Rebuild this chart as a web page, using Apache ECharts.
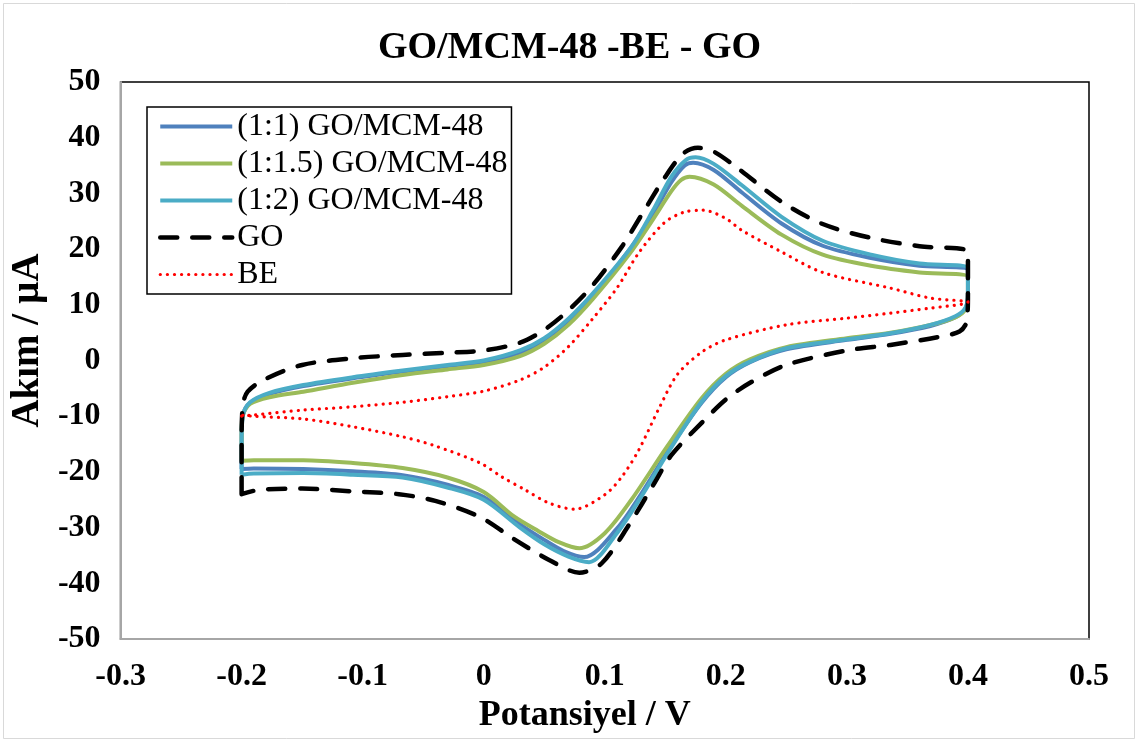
<!DOCTYPE html>
<html>
<head>
<meta charset="utf-8">
<script src="https://cdn.jsdelivr.net/npm/echarts@6/dist/echarts.min.js"></script>
<style>
  html, body { margin: 0; padding: 0; background: #fff; }
  #chart { width: 1139px; height: 742px; }
</style>
</head>
<body>
<div id="chart"></div>
<script>
// Cyclic voltammograms: potential (V) vs current (µA), forward scan then reverse scan.
const seriesNames = ['(1:1) GO/MCM-48', '(1:1.5) GO/MCM-48', '(1:2) GO/MCM-48', 'GO', 'BE'];

const cv11 = [
  [-0.2, -19.5], [-0.2, -13.5], [-0.199, -9.8], [-0.193, -7.6], [-0.177, -6.0], [-0.149, -4.6],
  [-0.108, -3.2], [-0.067, -2.0], [-0.03, -1.0], [0, -0.3], [0.03, 1.4], [0.05, 3.6], [0.07, 7.0],
  [0.09, 11.6], [0.12, 19.8], [0.14, 26.4], [0.155, 32.0], [0.166, 35.0], [0.173, 35.5],
  [0.19, 34.2], [0.213, 30.2], [0.246, 24.6], [0.28, 20.6], [0.32, 18.4], [0.36, 17.0], [0.4, 16.2],
  [0.4, 12.0], [0.398, 9.4], [0.39, 7.8], [0.369, 6.2], [0.336, 4.8], [0.3, 3.7], [0.25, 2.0],
  [0.22, -0.3], [0.2, -3.0], [0.18, -7.6], [0.153, -16.0], [0.13, -24.0], [0.11, -30.2],
  [0.083, -35.3], [0.066, -34.2], [0.05, -32.2], [0.03, -29.4], [0, -24.5], [-0.03, -22.3],
  [-0.067, -20.6], [-0.108, -19.9], [-0.149, -19.5], [-0.19, -19.4], [-0.2, -19.5]
];

const cv115 = [
  [-0.2, -18.0], [-0.2, -13.0], [-0.199, -9.8], [-0.193, -7.8], [-0.177, -6.6], [-0.149, -5.6],
  [-0.108, -4.0], [-0.067, -2.6], [-0.03, -1.6], [0, -0.8], [0.03, 0.8], [0.05, 3.0], [0.07, 6.4],
  [0.09, 11.0], [0.12, 19.0], [0.14, 25.4], [0.155, 30.4], [0.163, 32.4], [0.17, 33.0],
  [0.19, 31.6], [0.213, 27.8], [0.246, 22.6], [0.28, 19.0], [0.32, 17.0], [0.36, 15.8], [0.4, 15.0],
  [0.4, 11.5], [0.398, 9.2], [0.39, 7.8], [0.369, 6.4], [0.336, 5.0], [0.3, 4.0], [0.25, 2.4],
  [0.22, 0.2], [0.2, -2.4], [0.18, -6.8], [0.151, -15.6], [0.122, -25.0], [0.1, -31.0],
  [0.079, -33.7], [0.062, -32.6], [0.045, -30.6], [0.025, -28.0], [0, -23.6], [-0.03, -21.0],
  [-0.067, -19.3], [-0.108, -18.4], [-0.149, -17.9], [-0.19, -17.9], [-0.2, -18.0]
];

const cv12 = [
  [-0.2, -20.5], [-0.2, -14.0], [-0.199, -10.0], [-0.193, -7.5], [-0.177, -5.8], [-0.149, -4.4],
  [-0.108, -3.0], [-0.067, -1.8], [-0.03, -0.8], [0, 0.0], [0.03, 1.8], [0.05, 4.0], [0.07, 7.5],
  [0.09, 12.0], [0.122, 20.4], [0.14, 27.0], [0.155, 33.0], [0.167, 36.0], [0.175, 36.5],
  [0.19, 35.3], [0.213, 31.5], [0.246, 25.8], [0.28, 21.5], [0.32, 19.0], [0.36, 17.4], [0.4, 16.6],
  [0.4, 12.0], [0.398, 9.5], [0.39, 8.0], [0.369, 6.4], [0.336, 4.9], [0.3, 3.8], [0.25, 2.2],
  [0.22, -0.2], [0.2, -2.8], [0.18, -7.4], [0.1535, -16.1], [0.13, -24.5], [0.11, -31.0],
  [0.087, -36.2], [0.07, -35.2], [0.05, -33.0], [0.03, -30.0], [0, -25.0], [-0.03, -22.8],
  [-0.067, -21.0], [-0.108, -20.5], [-0.149, -20.2], [-0.19, -20.3], [-0.2, -20.5]
];

const cvGO = [
  [-0.2, -24.0], [-0.2, -15.0], [-0.199, -8.0], [-0.195, -5.6], [-0.182, -3.5], [-0.15, -0.8],
  [-0.108, 0.4], [-0.067, 1.0], [-0.03, 1.4], [0, 1.8], [0.03, 3.2], [0.05, 5.5], [0.07, 9.0],
  [0.09, 13.5], [0.114, 20.4], [0.13, 26.0], [0.15, 33.0], [0.165, 37.2], [0.177, 38.2],
  [0.19, 37.5], [0.21, 34.5], [0.246, 28.5], [0.28, 24.5], [0.32, 22.0], [0.36, 20.5], [0.4, 19.5],
  [0.4, 12.0], [0.399, 7.0], [0.393, 5.2], [0.375, 4.2], [0.336, 2.8], [0.3, 1.8], [0.25, -0.8],
  [0.22, -4.0], [0.2, -7.0], [0.18, -11.2], [0.155, -17.0], [0.141, -22.0], [0.12, -29.5],
  [0.0975, -36.4], [0.079, -38.1], [0.054, -35.8], [0.026, -32.2], [-0.003, -28.1], [-0.04, -25.2],
  [-0.07, -24.0], [-0.108, -23.5], [-0.15, -23.0], [-0.185, -23.2], [-0.2, -24.0]
];

const cvBE = [
  [-0.2, -10.0], [-0.191, -9.8], [-0.149, -8.9], [-0.108, -8.3], [-0.067, -7.5], [-0.03, -6.5],
  [0, -5.5], [0.03, -3.5], [0.05, -1.2], [0.07, 2.5], [0.09, 7.5], [0.11, 13.0], [0.128, 19.3],
  [0.149, 24.7], [0.165, 26.6], [0.181, 27.0], [0.2, 25.5], [0.213, 23.4], [0.246, 19.5],
  [0.28, 15.8], [0.336, 13.0], [0.369, 11.2], [0.4, 10.5],
  [0.395, 10.1], [0.369, 9.4], [0.336, 8.5], [0.3, 7.6], [0.25, 6.4], [0.2, 3.7], [0.18, 1.5],
  [0.16, -2.5], [0.145, -8.5], [0.128, -16.1], [0.114, -20.9], [0.1, -24.1], [0.075, -26.7],
  [0.054, -25.6], [0.034, -23.2], [0.015, -20.9], [-0.003, -18.4], [-0.042, -15.2],
  [-0.067, -13.7], [-0.108, -11.9], [-0.149, -10.5], [-0.191, -10.0], [-0.2, -9.8]
];

const xTicks = { min: -0.3, max: 0.5, step: 0.1 };
const yTicks = { min: -50, max: 50, step: 10 };

const serif = '"Liberation Serif", "Times New Roman", serif';
const chart = echarts.init(document.getElementById('chart'), null, { renderer: 'canvas' });

function lineSeries(name, data, color, width, type, cap) {
  return {
    name, type: 'line', data,
    symbol: 'none', smooth: 0.3,
    lineStyle: { color, width, type, cap: cap || 'butt', join: 'round' },
    itemStyle: { color }
  };
}

chart.setOption({
  backgroundColor: '#ffffff',
  animation: false,
  title: {
    text: 'GO/MCM-48 -BE - GO',
    left: 'center', top: 24,
    textStyle: { fontFamily: serif, fontWeight: 'bold', fontSize: 38, color: '#000' }
  },
  grid: {
    left: 117, right: 50, top: 82, bottom: 103,
    show: true, borderColor: '#000', borderWidth: 1.5, backgroundColor: '#fff'
  },
  legend: {
    orient: 'vertical', left: 147, top: 107,
    backgroundColor: '#fff', borderColor: '#000', borderWidth: 1.5, borderRadius: 0,
    padding: [1, 4, 1, 11], itemGap: 0, itemWidth: 72, itemHeight: 14,
    itemStyle: { opacity: 0 },
    lineStyle: { width: 'inherit', type: 'inherit', cap: 'inherit' },
    textStyle: { fontFamily: serif, fontSize: 32, color: '#000', lineHeight: 37 },
    data: seriesNames
  },
  xAxis: {
    type: 'value', min: xTicks.min, max: xTicks.max, interval: xTicks.step,
    name: 'Potansiyel / V', nameLocation: 'middle', nameGap: 56,
    nameTextStyle: { fontFamily: serif, fontWeight: 'bold', fontSize: 36, color: '#000', padding: [0, 40, 0, 0] },
    axisLine: { show: true, onZero: false, lineStyle: { color: '#a6a6a6', width: 2 } },
    axisTick: { show: false }, splitLine: { show: false },
    axisLabel: {
      margin: 22, fontFamily: serif, fontWeight: 'bold', fontSize: 32, color: '#000',
      formatter: v => String(Math.round(v * 10) / 10)
    }
  },
  yAxis: {
    type: 'value', min: yTicks.min, max: yTicks.max, interval: yTicks.step,
    name: 'Akım / µA', nameLocation: 'middle', nameGap: 66, nameRotate: 90,
    nameTextStyle: { fontFamily: serif, fontWeight: 'bold', fontSize: 39, color: '#000', padding: [0, 0, 0, 40] },
    axisLine: { show: true, onZero: false, lineStyle: { color: '#a6a6a6', width: 2 } },
    axisTick: { show: false }, splitLine: { show: false },
    axisLabel: { margin: 20, fontFamily: serif, fontWeight: 'bold', fontSize: 32, color: '#000' }
  },
  graphic: [{
    type: 'rect', silent: true, z: -1,
    shape: { x: 3.5, y: 3.5, width: 1131, height: 735 },
    style: { fill: null, stroke: '#d9d9d9', lineWidth: 1 }
  }],
  series: [
    lineSeries(seriesNames[0], cv11, '#4F81BD', 4),
    lineSeries(seriesNames[1], cv115, '#9BBB59', 4),
    lineSeries(seriesNames[2], cv12, '#4BACC6', 4),
    lineSeries(seriesNames[3], cvGO, '#000000', 4.5, [17, 15], 'round'),
    lineSeries(seriesNames[4], cvBE, '#FF0000', 3.2, [0.1, 7], 'round')
  ]
});
</script>
</body>
</html>
